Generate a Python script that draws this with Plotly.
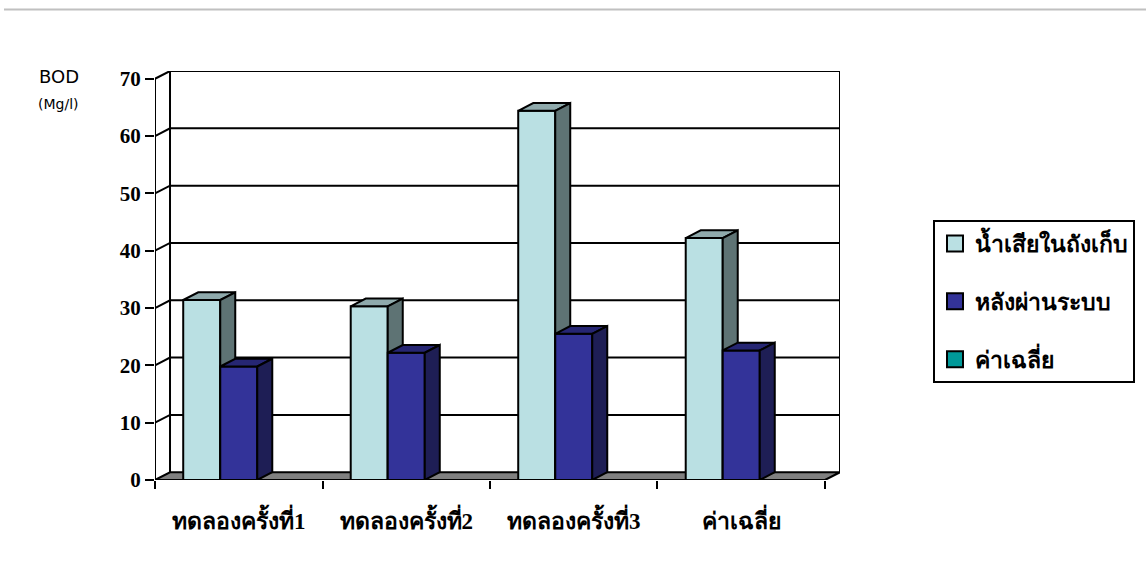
import plotly.graph_objects as go

categories = ["ทดลองครั้งที่1", "ทดลองครั้งที่2", "ทดลองครั้งที่3", "ค่าเฉลี่ย"]
series_names = ["น้ำเสียในถังเก็บ", "หลังผ่านระบบ", "ค่าเฉลี่ย"]
wastewater_tank = [31.4, 30.3, 64.4, 42.2]
after_system = [19.8, 22.2, 25.5, 22.6]
average_series = [None, None, None, None]
y_ticks = [0, 10, 20, 30, 40, 50, 60, 70]

series_values = [wastewater_tank, after_system, average_series]
front_colors = ["#BAE0E3", "#333399", "#009999"]
top_colors = ["#8FAAAC", "#262673", "#007373"]
side_colors = ["#5E7374", "#1E1E55", "#005555"]

DX = 0.0896   # depth offset in category units
DY = 1.35     # depth offset in value units
W = 0.221     # bar slot width
YMAX = 70

fig = go.Figure()
line_k = dict(color="black", width=2)

def add_poly(xs, ys, fill, line=line_k):
    fig.add_trace(go.Scatter(x=xs, y=ys, mode="lines", fill="toself", fillcolor=fill,
                             line=line, showlegend=False, hoverinfo="skip", cliponaxis=False))

def add_lines(xs, ys, line=line_k):
    fig.add_trace(go.Scatter(x=xs, y=ys, mode="lines", line=line, showlegend=False,
                             hoverinfo="skip", cliponaxis=False))

n = len(categories)
x0, x1 = -0.5, n - 0.5

# floor
add_poly([x0, x1, x1 + DX, x0 + DX, x0], [0, 0, DY, DY, 0], "#808080")

# walls gridlines
gx, gy = [], []
for v in y_ticks[1:]:
    gx += [x0, x0 + DX, x1 + DX, None]
    gy += [v, v + DY, v + DY, None]
gx += [x0 + DX, x0 + DX, None, x1 + DX, x1 + DX, None, x0, x0]
gy += [DY, YMAX + DY, None, DY, YMAX + DY, None, 0, YMAX]
add_lines(gx, gy)

# bars
for s, vals in enumerate(series_values):
    fx, fy, tx, ty, sx, sy = [], [], [], [], [], []
    for i, v in enumerate(vals):
        if v is None:
            continue
        xl = i - 1.5 * W + s * W
        xr = xl + W
        fx += [xl, xr, xr, xl, xl, None]
        fy += [0, 0, v, v, 0, None]
        tx += [xl, xr, xr + DX, xl + DX, xl, None]
        ty += [v, v, v + DY, v + DY, v, None]
        sx += [xr, xr + DX, xr + DX, xr, xr, None]
        sy += [0, DY, v + DY, v, 0, None]
    if fx:
        add_poly(fx, fy, front_colors[s])
        add_poly(tx, ty, top_colors[s])
        add_poly(sx, sy, side_colors[s])

# legend entries
for s, name in enumerate(series_names):
    fig.add_trace(go.Scatter(x=[None], y=[None], mode="markers", name=name,
                             legendgroup=str(s),
                             marker=dict(symbol="square", size=18, color=front_colors[s],
                                         line=dict(color="black", width=2))))

fig.update_layout(
    width=1146, height=587,
    margin=dict(l=155, r=306, t=71, b=107),
    paper_bgcolor="white", plot_bgcolor="white",
    showlegend=True,
    legend=dict(xref="container", yref="container", x=933 / 1146, y=1 - 220 / 587,
                xanchor="left", yanchor="top", bordercolor="black", borderwidth=2,
                bgcolor="white", tracegroupgap=25,
                font=dict(family="Liberation Serif", size=23, color="black", weight="bold"),
                itemsizing="trace"),
    xaxis=dict(range=[x0, x1 + DX], tickmode="array", tickvals=list(range(n)),
               ticktext=categories, ticks="", showgrid=False, zeroline=False,
               showline=False, ticklabelstandoff=25,
               tickfont=dict(family="Liberation Serif", size=23, color="black", weight="bold"),
               minor=dict(tickmode="linear", tick0=-0.5, dtick=1, ticks="outside",
                          ticklen=8, tickwidth=2, tickcolor="black", showgrid=False)),
    yaxis=dict(range=[0, YMAX + DY], tickmode="array", tickvals=y_ticks, ticks="outside",
               ticklen=9, tickwidth=2, tickcolor="black", showgrid=False, zeroline=False,
               showline=False,
               tickfont=dict(family="Liberation Serif", size=21, color="black", weight="bold")),
    shapes=[dict(type="line", xref="paper", yref="paper", x0=(4 - 155) / 685, x1=(1146 - 155) / 685,
                 y0=(480 - 9.5) / 409, y1=(480 - 9.5) / 409, line=dict(color="#C0C0C0", width=2))],
    annotations=[
        dict(text="BOD", xref="paper", yref="paper", x=(59 - 155) / 685, y=(480 - 77) / 409,
             xanchor="center", yanchor="middle",
             showarrow=False, font=dict(family="DejaVu Sans", size=18, color="black")),
        dict(text="(Mg/l)", xref="paper", yref="paper", x=(59 - 155) / 685, y=(480 - 104) / 409,
             xanchor="center", yanchor="middle",
             showarrow=False, font=dict(family="DejaVu Sans", size=14, color="black")),
    ],
)

fig.write_html("out.html")
